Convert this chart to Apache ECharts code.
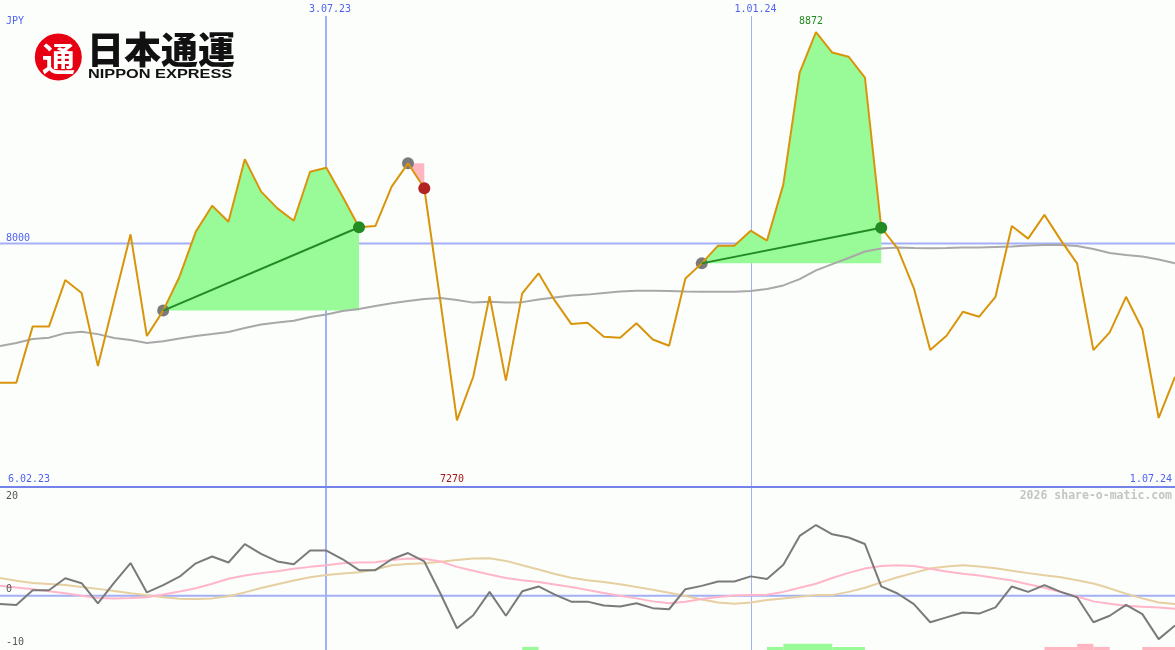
<!DOCTYPE html>
<html><head><meta charset="utf-8">
<script src="https://cdn.jsdelivr.net/npm/echarts@6/dist/echarts.min.js"></script>
<style>html,body{margin:0;padding:0;background:#fcfefc;}#c{width:1175px;height:650px;}</style>
</head><body><div id="c"></div>
<script>
// ---- data (weekly closes, JPY) ----
const price = [7425,7425,7657,7657,7849,7796,7494,7767,8038,7618,
7723,7863,8049,8156,8090,8348,8214,8145,8094,8296,
8313,8193,8067,8072,8235,8331,8228,7755,7270,7450,
7783,7434,7794,7877,7764,7668,7673,7615,7611,7671,
7604,7578,7856,7918,7991,7991,8053,8012,8244,8705,
8872,8788,8771,8685,8065,7980,7815,7560,7619,7718,
7698,7780,8072,8020,8118,8014,7918,7560,7633,7780,
7646,7280,7450];
const priceMA = [7577,7589,7606,7611,7630,7636,7626,7610,7602,7589,
7597,7608,7618,7626,7635,7651,7666,7674,7681,7697,
7707,7721,7730,7742,7753,7763,7771,7775,7767,7756,
7760,7756,7758,7769,7777,7785,7789,7796,7802,7805,
7805,7804,7802,7801,7801,7801,7804,7812,7827,7853,
7889,7915,7940,7967,7979,7983,7981,7980,7981,7983,
7984,7986,7988,7992,7994,7994,7990,7977,7961,7953,
7946,7934,7918];
const momentum = [-1.55,-1.7,1.0,1.0,3.2,2.3,-1.4,2.4,6.0,0.6,
1.95,3.5,5.95,7.2,6.1,9.5,7.7,6.3,5.8,8.3,
8.3,6.7,4.7,4.7,6.7,7.85,6.3,0.3,-6.0,-3.6,
0.7,-3.7,0.8,1.7,0.2,-1.1,-1.1,-1.8,-2.0,-1.4,
-2.3,-2.5,1.2,1.8,2.6,2.6,3.55,3.05,5.7,11.0,
13.0,11.3,10.7,9.5,1.7,0.4,-1.55,-4.9,-4.0,-3.1,
-3.3,-2.15,1.7,0.7,1.95,0.7,-0.3,-4.9,-3.7,-1.7,
-3.4,-8.0,-5.5];
const momentumFast = [1.84,1.5,1.2,0.8,0.45,0.0,-0.45,-0.5,-0.45,-0.3,
0.2,0.75,1.35,2.2,3.1,3.7,4.15,4.5,4.95,5.3,
5.6,5.95,6.1,6.15,6.55,6.85,6.8,6.3,5.3,4.6,
3.9,3.25,2.85,2.5,2.05,1.6,1.05,0.5,0.0,-0.5,
-1.05,-1.4,-1.1,-0.6,-0.25,0.05,0.1,0.15,0.7,1.45,
2.2,3.25,4.2,5.0,5.45,5.6,5.45,4.95,4.45,4.05,
3.7,3.25,2.8,2.1,1.45,0.65,-0.15,-1.05,-1.5,-1.85,
-2.05,-2.2,-2.4];
const momentumSlow = [3.24,2.75,2.35,2.15,1.95,1.6,1.25,0.85,0.45,0.1,
-0.3,-0.55,-0.6,-0.5,-0.1,0.6,1.4,2.1,2.8,3.4,
3.8,4.1,4.3,4.8,5.6,5.85,5.95,6.25,6.55,6.85,
6.9,6.4,5.6,4.8,4.0,3.3,2.85,2.5,2.1,1.6,
1.1,0.55,-0.05,-0.7,-1.25,-1.5,-1.25,-0.8,-0.5,-0.2,
0.1,0.1,0.7,1.45,2.45,3.4,4.2,5.0,5.35,5.6,
5.35,5.05,4.6,4.15,3.75,3.4,2.85,2.25,1.35,0.35,
-0.5,-1.25,-1.55];
// trades: entry / exit week index
const tradeEntry = [10, 25, 43];
const tradeExit  = [22, 26, 54];
const tradeWin   = [true, false, true];
// signal bars: [startIdx, endIdx, level]
const buyBars  = [[32,33,1],[47,48,1],[48,51,2],[51,53,1]];
const sellBars = [[64,66,1],[66,67,2],[67,68,1],[70,72,1]];
// tick labels
const dateLineIdx = [20, 46];
const dateLineLabels = ['3.07.23', '1.01.24'];
const startLabel = '6.02.23';
const endLabel = '1.07.24';
const priceRefLevel = 8000;
const lowerTicks = [20, 0, -10];
const currency = 'JPY';

// ---- layout ----
const Y0_MIN = 6995, Y0_MAX = 9005;
const Y1_MIN = -10, Y1_MAX = 20;
const BAR_UNIT = 0.57;
const N = price.length;
const BLUE = '#5062f0';
const MONO = '"DejaVu Sans Mono", monospace';

const chart = echarts.init(document.getElementById('c'), null, {renderer: 'canvas'});
const pts = arr => arr.map((v, i) => [i, v]);

const series = [];
tradeEntry.forEach((s, k) => {
  const e = tradeExit[k];
  series.push({
    type: 'line', xAxisIndex: 0, yAxisIndex: 0, z: 1,
    data: pts(price).slice(s, e + 1), showSymbol: false, symbol: 'none',
    lineStyle: {width: 0, opacity: 0},
    areaStyle: {origin: price[s], color: tradeWin[k] ? '#98fb98' : '#ffb6c1', opacity: 1},
    silent: true
  });
});
series.push({type: 'line', xAxisIndex: 0, yAxisIndex: 0, z: 2, data: pts(priceMA), symbol: 'none',
  lineStyle: {color: '#a8a8a8', width: 2}, silent: true});
series.push({type: 'scatter', xAxisIndex: 0, yAxisIndex: 0, z: 2,
  data: tradeEntry.map(i => [i, price[i]]), symbolSize: 12, itemStyle: {color: '#7a7a7a', opacity: 1}, silent: true});
series.push({type: 'line', xAxisIndex: 0, yAxisIndex: 0, z: 3, data: pts(price), symbol: 'none',
  lineStyle: {color: '#d8950c', width: 2}, silent: true});
tradeEntry.forEach((s, k) => {
  if (!tradeWin[k]) return;
  const e = tradeExit[k];
  series.push({type: 'line', xAxisIndex: 0, yAxisIndex: 0, z: 4,
    data: [[s, price[s]], [e, price[e]]], symbol: 'none',
    lineStyle: {color: '#228b22', width: 2}, silent: true});
});
series.push({type: 'scatter', xAxisIndex: 0, yAxisIndex: 0, z: 5,
  data: tradeExit.map((i, k) => ({value: [i, price[i]], itemStyle: {color: tradeWin[k] ? '#228b22' : '#b22222', opacity: 1}})),
  symbolSize: 12, silent: true});
// lower panel
series.push({type: 'line', xAxisIndex: 1, yAxisIndex: 1, z: 2, data: pts(momentumSlow), symbol: 'none',
  lineStyle: {color: '#e6cfa0', width: 2}, silent: true});
series.push({type: 'line', xAxisIndex: 1, yAxisIndex: 1, z: 2, data: pts(momentumFast), symbol: 'none',
  lineStyle: {color: '#ffb6c8', width: 2}, silent: true});
series.push({type: 'line', xAxisIndex: 1, yAxisIndex: 1, z: 3, data: pts(momentum), symbol: 'none',
  lineStyle: {color: '#7a7a7a', width: 2}, silent: true});
const barRender = color => (params, api) => {
  const p0 = api.coord([api.value(0), Y1_MIN]);
  const p1 = api.coord([api.value(1), Y1_MIN + api.value(2) * BAR_UNIT]);
  return {type: 'rect', shape: {x: p0[0], y: p1[1], width: p1[0] - p0[0], height: p0[1] - p1[1]},
    style: {fill: color}};
};
series.push({type: 'custom', xAxisIndex: 1, yAxisIndex: 1, z: 1, clip: false, data: buyBars, renderItem: barRender('#98fb98'), silent: true});
series.push({type: 'custom', xAxisIndex: 1, yAxisIndex: 1, z: 1, clip: false, data: sellBars, renderItem: barRender('#ffb6c1'), silent: true});

const option = {
  animation: false,
  backgroundColor: '#fcfefc',
  grid: [
    {left: 0, right: 0, top: 0, height: 487},
    {left: 0, right: 0, top: 487, height: 163}
  ],
  xAxis: [
    {type: 'value', gridIndex: 0, min: 0, max: N - 1, splitLine: {show: false}, axisTick: {show: false},
      axisLabel: {show: false}, axisLine: {show: true, onZero: false, lineStyle: {color: '#7383ea', width: 2}}},
    {type: 'value', gridIndex: 1, min: 0, max: N - 1, show: false}
  ],
  yAxis: [
    {type: 'value', gridIndex: 0, min: Y0_MIN, max: Y0_MAX, show: false},
    {type: 'value', gridIndex: 1, min: Y1_MIN, max: Y1_MAX, show: false}
  ],
  series: series
};
chart.setOption(option);

const px0 = (i, v) => chart.convertToPixel({xAxisIndex: 0, yAxisIndex: 0}, [i, v]);
const px1 = (i, v) => chart.convertToPixel({xAxisIndex: 1, yAxisIndex: 1}, [i, v]);
const txt = (x, y, text, color, align, font, extra) => Object.assign({
  type: 'text', z: 100, x: x, y: y,
  style: {text: text, fill: color, font: font || ('10px ' + MONO), textAlign: align || 'left', textVerticalAlign: 'middle'}
}, extra || {});
const hline = (x1, x2, y, color, w) => ({type: 'line', z: 0, shape: {x1: x1, y1: y, x2: x2, y2: y}, style: {stroke: color, lineWidth: w}});
const vline = (x, y1, y2, color, w) => ({type: 'line', z: 0, shape: {x1: x, y1: y1, x2: x, y2: y2}, style: {stroke: color, lineWidth: w}});

const g = [];
// reference lines
const yRef = px0(0, priceRefLevel)[1];
g.push(hline(0, 1175, yRef, '#a3b0f5', 2));
const yZero = px1(0, 0)[1];
g.push(hline(0, 1175, yZero, '#a3b0f5', 2));
const dateLineW = [2, 1];
dateLineIdx.forEach((idx, k) => {
  const x = Math.round(px0(idx, Y0_MIN)[0]) + (dateLineW[k] === 1 ? 0.5 : 0);
  g.push(vline(x, 16, 650, '#a3b0f5', dateLineW[k]));
  g.push(txt(x - 17, 9, dateLineLabels[k], BLUE));
});
// axis texts
g.push(txt(6, 21, currency, BLUE));
g.push(txt(6, yRef - 5.5, String(priceRefLevel), BLUE));
g.push(txt(8, 479, startLabel, BLUE));
g.push(txt(1172, 479, endLabel, BLUE, 'right'));
// max / min labels
const maxV = Math.max(...price), minV = Math.min(...price);
const iMax = price.indexOf(maxV), iMin = price.indexOf(minV);
const pMax = px0(iMax, maxV);
g.push(txt(pMax[0] - 17, pMax[1] - 11, String(maxV), '#228b22'));
g.push(txt(px0(iMin, minV)[0] - 17, 479, String(minV), '#a01818'));
// lower axis labels
lowerTicks.forEach(t => {
  let y = px1(0, t)[1];
  if (t === Y1_MAX) y += 9; else if (t === Y1_MIN) y -= 8; else y -= 6.5;
  g.push(txt(6, y, String(t), '#555555'));
});
g.push(txt(1172, 496, '2026 share-o-matic.com', '#c4c4c4', 'right', 'bold 11.5px ' + MONO));
// logo
g.push({type: 'circle', z: 100, shape: {cx: 58.3, cy: 57, r: 23.5}, style: {fill: '#e60012'}});
g.push(txt(58.5, 58, '通', '#ffffff', 'center', 'bold 33px "Noto Sans CJK JP"'));
g.push(txt(87, 49.5, '日本通運', '#111111', 'left', '900 37px "Noto Sans CJK JP"'));
g.push(txt(88, 74.5, 'NIPPON EXPRESS', '#111111', 'left', 'bold 12px "Liberation Sans"', {scaleX: 1.36}));

chart.setOption({graphic: g});
</script></body></html>
